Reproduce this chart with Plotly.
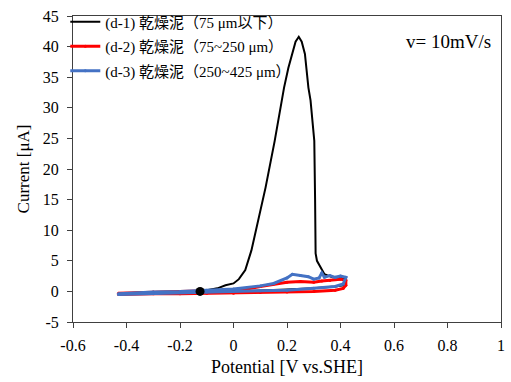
import plotly.graph_objects as go

# Series (d-1)
d1_potential = [-0.125, -0.1, -0.06, -0.03, 0.0, 0.02, 0.044, 0.067, 0.093, 0.12, 0.154, 0.172, 0.189,
                0.205, 0.219, 0.232, 0.244, 0.255, 0.267, 0.28, 0.288, 0.302, 0.305, 0.307, 0.312, 0.326,
                0.34, 0.37, 0.40, 0.42, 0.41, 0.38, 0.34, 0.3, 0.2, 0.1, 0.0, -0.1, -0.2, -0.3, -0.4,
                -0.43, -0.4, -0.3, -0.2, -0.13]
d1_current = [0, 0.2, 0.5, 1.0, 1.3, 2.0, 3.5, 6.7, 11.6, 17, 24.6, 29, 33.3,
              36.5, 38.8, 40.8, 41.6, 40.8, 38.8, 33.3, 31.2, 24.6, 15, 6.2, 5.0, 4.0,
              2.8, 2.3, 2.3, 2.0, 1.0, 0.8, 0.6, 0.5, 0.3, 0.1, 0.0, -0.1, -0.1, -0.2, -0.3,
              -0.4, -0.3, -0.1, 0.0, 0.0]

# Series (d-2)
d2_potential = [-0.43, -0.3, -0.2, -0.1, 0.0, 0.05, 0.1, 0.15, 0.2, 0.25, 0.3, 0.33, 0.36, 0.4, 0.42,
                0.42, 0.41, 0.38, 0.3, 0.2, 0.1, 0.0, -0.1, -0.2, -0.3, -0.43]
d2_current = [-0.3, -0.1, 0.0, 0.1, 0.2, 0.4, 0.8, 1.2, 1.5, 1.6, 1.5, 1.7, 1.8, 2.0, 1.8,
              1.0, 0.5, 0.2, 0.0, -0.1, -0.2, -0.3, -0.3, -0.4, -0.4, -0.5]

# Series (d-3)
d3_potential = [-0.43, -0.3, -0.2, -0.1, 0.0, 0.1, 0.15, 0.2, 0.22, 0.25, 0.28, 0.3, 0.32, 0.33, 0.34,
                0.36, 0.38, 0.4, 0.42, 0.41, 0.38, 0.3, 0.2, 0.1, 0.0, -0.1, -0.2, -0.3, -0.43]
d3_current = [-0.4, -0.1, 0.0, 0.2, 0.4, 0.9, 1.3, 2.2, 2.8, 2.6, 2.4, 2.0, 2.2, 3.0, 2.3,
              2.6, 2.3, 2.5, 2.3, 1.2, 0.8, 0.5, 0.2, 0.1, 0.0, -0.1, -0.2, -0.3, -0.5]

start_potential = [-0.125]
start_current = [0.0]

series_names = ["(d-1) 乾燥泥（75 μm以下）", "(d-2) 乾燥泥（75~250 μm）", "(d-3) 乾燥泥（250~425 μm）"]

x_tickvals = [-0.6, -0.4, -0.2, 0, 0.2, 0.4, 0.6, 0.8, 1.0]
x_ticktext = ["-0.6", "-0.4", "-0.2", "0", "0.2", "0.4", "0.6", "0.8", "1"]
y_tickvals = [-5, 0, 5, 10, 15, 20, 25, 30, 35, 40, 45]
y_ticktext = ["-5", "0", "5", "10", "15", "20", "25", "30", "35", "40", "45"]

serif = "Liberation Serif, Times New Roman, Noto Sans CJK JP, serif"

fig = go.Figure()
fig.add_trace(go.Scatter(x=d1_potential, y=d1_current, mode="lines", name=series_names[0],
                         legendgroup="d1", line=dict(color="black", width=2)))
fig.add_trace(go.Scatter(x=d2_potential, y=d2_current, mode="lines+markers", name=series_names[1],
                         legendgroup="d2",
                         line=dict(color="#ff0000", width=3), marker=dict(size=3, color="#ff0000")))
fig.add_trace(go.Scatter(x=d3_potential, y=d3_current, mode="lines+markers", name=series_names[2],
                         legendgroup="d3",
                         line=dict(color="#4472c4", width=3), marker=dict(size=3, color="#4472c4")))
fig.add_trace(go.Scatter(x=start_potential, y=start_current, mode="markers", showlegend=False,
                         marker=dict(size=9, color="black")))

fig.add_annotation(text="v= 10mV/s", x=0.981, y=0.918, xref="paper", yref="paper",
                   xanchor="right", yanchor="middle", showarrow=False,
                   font=dict(family=serif, size=19, color="black"))

axis_common = dict(showline=True, linecolor="#404040", linewidth=1, mirror=True,
                   showgrid=False, zeroline=False, ticks="outside", ticklen=5,
                   tickcolor="#404040", tickfont=dict(family=serif, size=16, color="black"))

fig.update_layout(
    width=511, height=382,
    margin=dict(l=73, r=6, t=15, b=60),
    plot_bgcolor="white", paper_bgcolor="white",
    font=dict(family=serif, color="black"),
    showlegend=True,
    legend=dict(x=-0.018, y=1.034, xanchor="left", yanchor="top", bgcolor="rgba(0,0,0,0)",
                font=dict(family=serif, size=15, color="black"), tracegroupgap=2,
                itemwidth=30),
    xaxis=dict(range=[-0.6, 1.0], tickvals=x_tickvals, ticktext=x_ticktext, ticklabelstandoff=4,
               title=dict(text="Potential [V vs.SHE]", font=dict(family=serif, size=18), standoff=7),
               **axis_common),
    yaxis=dict(range=[-5, 45], tickvals=y_tickvals, ticktext=y_ticktext, ticklabelstandoff=5,
               title=dict(text="Current [μA]", font=dict(family=serif, size=17), standoff=8),
               **axis_common),
)

fig.write_html("out.html")
